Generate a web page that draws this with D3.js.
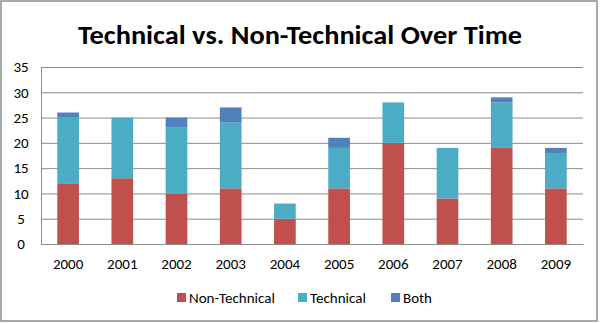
<!DOCTYPE html>
<html lang="en">
<head>
<meta charset="utf-8">
<title>Technical vs. Non-Technical Over Time</title>
<style>
    body { margin: 0; background: #fff; }
    svg text { font-family: Carlito, "Liberation Sans", "Open Sans", sans-serif; fill: #000; }
    .grid line { stroke: #8c8c8c; stroke-width: 1; }
</style>
</head>
<body>
<svg class="chart" width="600" height="323"></svg>
<script src="https://d3js.org/d3.v7.min.js"></script>
<script>
    // data
    var years = ['2000', '2001', '2002', '2003', '2004', '2005', '2006', '2007', '2008', '2009'];
    var nonTechnical = [12, 13, 10, 11, 5, 11, 20, 9, 19, 11];
    var technical = [13, 12, 13, 13, 3, 8, 8, 10, 9, 7];
    var both = [1, 0, 2, 3, 0, 2, 0, 0, 1, 1];
    var seriesNames = ['Non-Technical', 'Technical', 'Both'];
    var yTicks = [0, 5, 10, 15, 20, 25, 30, 35];
    var colors = ['#c0504d', '#4bacc6', '#4f81bd'];

    var svg = d3.select('.chart'),
        width = +svg.attr('width'),
        height = +svg.attr('height'),
        padding = {top: 67, right: 17, bottom: 79, left: 41},
        plot_w = width - padding.left - padding.right,
        plot_h = height - padding.top - padding.bottom;

    // outer frame
    svg.append('rect')
        .attr('x', 1).attr('y', 1)
        .attr('width', width - 4).attr('height', height - 3)
        .attr('fill', '#fff')
        .attr('stroke', '#8c8c8c')
        .attr('stroke-width', 1.5);

    svg.append('text')
        .attr('x', width / 2)
        .attr('y', 44)
        .attr('text-anchor', 'middle')
        .attr('font-size', 26)
        .attr('font-weight', 'bold')
        .attr('textLength', 444)
        .attr('lengthAdjust', 'spacingAndGlyphs')
        .text('Technical vs. Non-Technical Over Time');

    var x = d3.scaleBand().domain(years).range([0, plot_w]).paddingInner(0.6).paddingOuter(0.3),
        y = d3.scaleLinear().domain([0, 35]).range([plot_h, 0]);

    var g = svg.append('g')
        .attr('transform', 'translate(' + padding.left + ',' + padding.top + ')');

    // gridlines
    g.append('g')
        .attr('class', 'grid')
        .call(d3.axisLeft(y).tickValues(yTicks).tickSize(-plot_w).tickFormat(''))
        .call(function(s) { s.select('.domain').remove(); });

    // stacked bars
    var table = years.map(function(yr, i) {
        return {year: yr, 'Non-Technical': nonTechnical[i], 'Technical': technical[i], 'Both': both[i]};
    });
    var stacked = d3.stack().keys(seriesNames)(table);

    g.selectAll('.series')
        .data(stacked)
        .enter().append('g')
        .attr('class', 'series')
        .attr('fill', function(d, i) { return colors[i]; })
        .selectAll('rect')
        .data(function(d) { return d; })
        .enter().append('rect')
        .attr('x', function(d) { return x(d.data.year); })
        .attr('y', function(d) { return y(d[1]); })
        .attr('width', x.bandwidth())
        .attr('height', function(d) { return y(d[0]) - y(d[1]); });

    // axes
    var yAxis = g.append('g')
        .call(d3.axisLeft(y).tickValues(yTicks).tickSize(0).tickPadding(20));
    yAxis.select('.domain').attr('stroke', '#8c8c8c');
    yAxis.selectAll('text').attr('font-size', 15).attr('text-anchor', 'middle');

    var xAxis = g.append('g')
        .attr('transform', 'translate(0,' + plot_h + ')')
        .call(d3.axisBottom(x).tickSize(0).tickPadding(14));
    xAxis.select('.domain').attr('stroke', '#8c8c8c');
    xAxis.selectAll('text').attr('font-size', 15);

    // legend
    var legendX = [177, 298, 391];
    var legend = svg.append('g').attr('transform', 'translate(0,298)');
    seriesNames.forEach(function(name, i) {
        legend.append('rect')
            .attr('x', legendX[i]).attr('y', -5)
            .attr('width', 9).attr('height', 9)
            .attr('fill', colors[i]);
        legend.append('text')
            .attr('x', legendX[i] + 12)
            .attr('y', 0)
            .attr('dy', '0.35em')
            .attr('font-size', 15)
            .text(name);
    });
</script>
</body>
</html>
